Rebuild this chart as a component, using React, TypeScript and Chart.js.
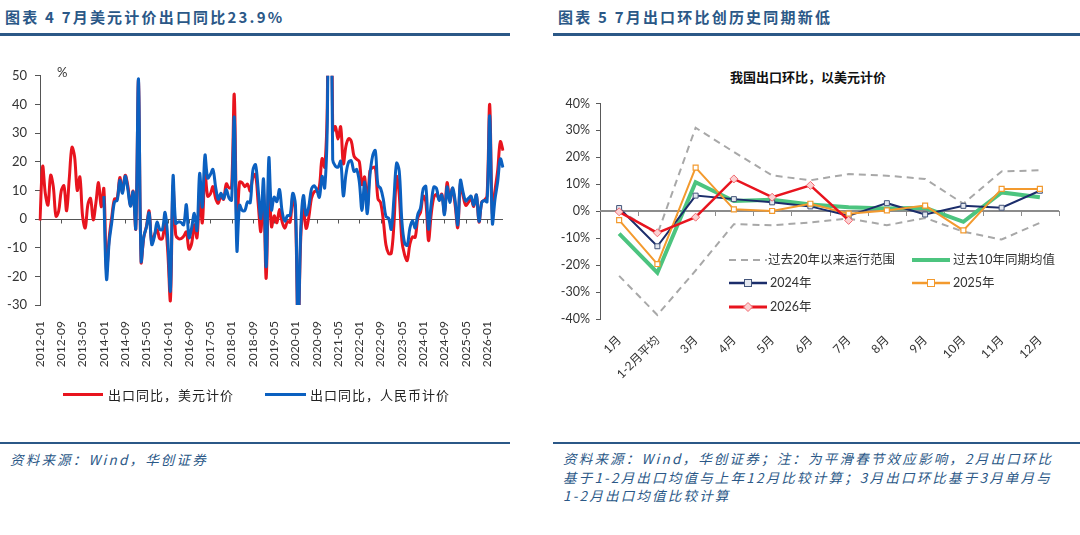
import React, { useEffect, useRef } from 'react';
import { Chart, registerables } from 'chart.js';

Chart.register(...registerables);

// ---------------- Left chart data: export YoY (%) ----------------
const usd2012 = [-0.5, 18.4, 8.9, 4.9, 15.3, 11.3, 1.0, 2.7, 9.9, 11.6, 2.9, 14.1];
const usd2013 = [25.0, 21.8, 10.0, 14.7, 1.0, -3.1, 5.1, 7.2, -0.3, 5.6, 12.7, 4.3];
const usd2014 = [10.6, -18.1, -6.6, 0.9, 7.0, 7.2, 14.5, 9.4, 15.3, 11.6, 4.7, 9.7];
const usd2015 = [-3.3, 48.3, -15.0, -6.4, -2.5, 2.8, -8.3, -5.5, -3.7, -6.9, -6.8, -1.4];
const usd2016 = [-11.2, -28.5, 11.5, -5.5, -6.8, -6.8, -6.0, -4.5, -10.5, -8.5, -2.0, -6.5];
const usd2017 = [7.9, -1.3, 16.4, 8.0, 8.7, 11.3, 7.2, 5.5, 8.1, 6.9, 12.3, 10.9];
const usd2018 = [11.1, 43.5, -2.7, 12.9, 12.6, 11.3, 12.2, 9.8, 14.5, 15.6, 5.4, -4.4];
const usd2019 = [9.1, -20.7, 14.2, -2.7, 1.1, -1.3, 3.3, -1.0, -3.2, -0.9, -1.1, 7.9];
const usd2020 = [2.0, -40.6, -6.6, 3.5, -3.3, 0.5, 7.2, 9.5, 9.9, 11.4, 21.1, 18.1];
const usd2021 = [42.0, 154.9, 30.6, 32.3, 27.9, 32.2, 19.3, 25.6, 28.1, 27.1, 22.0, 20.9];
const usd2022 = [20.0, 12.0, 14.7, 3.9, 16.9, 17.9, 18.0, 7.1, 5.7, -0.3, -9.0, -12.0];
const usd2023 = [-12.0, -2.0, 14.8, 8.5, -7.5, -12.4, -14.5, -8.8, -6.2, -6.4, 0.5, 2.3];
const usd2024 = [8.0, 6.0, -7.5, 1.5, 7.6, 8.6, 7.0, 8.7, 2.4, 12.7, 6.7, 10.7];
const usd2025 = [5.0, -3.0, 12.4, 8.1, 4.8, 5.8, 7.2, 4.4, 8.3, -1.1, 5.9, 6.6];
const usd2026 = [8.0, 40.0, 2.0, 10.0, 17.0, 27.0, 23.9];

const rmb2014 = [8.0, -21.0, -8.0, -1.0, 6.0, 6.5, 13.5, 9.0, 15.0, 10.5, 4.5, 9.5];
const rmb2015 = [-3.2, 48.9, -14.6, -6.2, -2.8, 2.1, -8.9, -6.1, -1.1, -3.6, -3.7, 2.3];
const rmb2016 = [-6.6, -25.0, 15.0, -1.5, -1.0, -1.2, -2.0, 5.0, -6.5, -3.0, 2.0, -4.0];
const rmb2017 = [15.9, 4.2, 22.3, 14.3, 15.5, 17.3, 11.2, 6.9, 9.0, 7.1, 10.3, 7.4];
const rmb2018 = [6.6, 35.5, -11.0, 4.8, 3.0, 3.0, 6.0, 5.7, 17.0, 19.0, 10.2, 0.2];
const rmb2019 = [13.9, -16.6, 21.3, 3.2, 7.7, 6.1, 10.3, 2.6, -0.7, 1.2, 1.3, 9.0];
const rmb2020 = [5.0, -40.0, -3.5, 8.2, 1.4, 4.3, 10.4, 11.6, 10.2, 7.6, 14.9, 10.9];
const rmb2021 = [35.0, 140.0, 20.7, 18.5, 18.1, 20.2, 8.1, 15.7, 19.9, 20.3, 16.6, 17.3];
const rmb2022 = [13.0, 3.0, 12.9, 1.9, 15.3, 22.0, 23.9, 11.8, 10.7, 7.0, 0.9, 0.3];
const rmb2023 = [-3.6, 7.0, 19.5, 16.8, -0.8, -8.3, -9.2, -3.2, -0.6, -3.1, 1.7, 3.8];
const rmb2024 = [10.5, 11.4, -3.5, 5.1, 11.2, 10.7, 6.5, 8.4, 1.5, 11.2, 5.8, 10.9];
const rmb2025 = [6.5, -2.0, 13.5, 9.3, 6.3, 7.2, 8.0, 4.8, 8.4, -0.8, 5.7, 6.5];
const rmb2026 = [6.0, 36.0, -1.5, 7.0, 13.0, 21.0, 18.0];

const usdYoY: (number | null)[] = [
  ...usd2012, ...usd2013, ...usd2014, ...usd2015, ...usd2016, ...usd2017, ...usd2018,
  ...usd2019, ...usd2020, ...usd2021, ...usd2022, ...usd2023, ...usd2024, ...usd2025, ...usd2026,
];
const rmbMissing2012_2013: (number | null)[] = new Array(24).fill(null);
const rmbYoY: (number | null)[] = [
  ...rmbMissing2012_2013, ...rmb2014, ...rmb2015, ...rmb2016, ...rmb2017, ...rmb2018,
  ...rmb2019, ...rmb2020, ...rmb2021, ...rmb2022, ...rmb2023, ...rmb2024, ...rmb2025, ...rmb2026,
];

const years = [2012, 2013, 2014, 2015, 2016, 2017, 2018, 2019, 2020, 2021, 2022, 2023, 2024, 2025, 2026];
const monthNums = ['01', '02', '03', '04', '05', '06', '07', '08', '09', '10', '11', '12'];
const monthLabels: string[] = years
  .flatMap((y) => monthNums.map((m) => `${y}-${m}`))
  .slice(0, usdYoY.length);

const leftTickLabels = [
  '2012-01', '2012-09', '2013-05', '2014-01', '2014-09', '2015-05', '2016-01', '2016-09',
  '2017-05', '2018-01', '2018-09', '2019-05', '2020-01', '2020-09', '2021-05', '2022-01',
  '2022-09', '2023-05', '2024-01', '2024-09', '2025-05', '2026-01',
];

// ---------------- Right chart data: export MoM (%) ----------------
const momCategories = ['1月', '1-2月平均', '3月', '4月', '5月', '6月', '7月', '8月', '9月', '10月', '11月', '12月'];
const range20yUpper = [0.5, -8.5, 31.0, 22.0, 13.3, 11.5, 13.8, 13.2, 12.0, 2.8, 14.8, 15.2];
const range20yLower = [-24.0, -38.5, -22.0, -4.8, -5.2, -4.2, -2.7, -5.2, -2.5, -7.6, -10.5, -4.3];
const avg10y = [-8.3, -22.8, 10.8, 3.8, 4.3, 2.5, 1.5, 1.0, 1.3, -3.9, 7.0, 5.2];
const mom2024 = [1.2, -13.0, 5.8, 4.5, 3.3, 1.8, -1.7, 3.0, -1.2, 2.0, 1.3, 7.6];
const mom2025 = [-3.3, -19.6, 16.2, 0.7, 0.1, 2.8, -0.9, 0.3, 2.1, -7.1, 8.3, 8.3];
const mom2026 = [-0.2, -8.0, -2.2, 12.0, 5.2, 9.6, -3.4];

// ---------------- Styles ----------------
const HEAD = '#2b5887';
const RED = '#e8141e';
const BLUE = '#0b60c0';
const NAVY = '#1b2d6b';
const ORANGE = '#f39a2e';
const GREEN = '#4cc47f';
const GRAY = '#a8a8a8';
const NUM_FONT = 'Lato, "Noto Sans CJK SC", sans-serif';
const CJK_FONT = '"Noto Sans CJK SC", sans-serif';

const leftAxisPlugin = {
  id: 'leftZeroAxis',
  beforeDatasetsDraw(chart: any) {
    const { ctx, chartArea, scales } = chart;
    const y0 = Math.round(scales.y.getPixelForValue(0)) + 0.5;
    ctx.save();
    ctx.strokeStyle = '#555';
    ctx.lineWidth = 1;
    ctx.beginPath();
    ctx.moveTo(chartArea.left, y0);
    ctx.lineTo(chartArea.right, y0);
    monthLabels.forEach((m, i) => {
      if (i > 0 && leftTickLabels.includes(m)) {
        const x = Math.round(scales.x.getPixelForValue(i)) + 0.5;
        ctx.moveTo(x, y0);
        ctx.lineTo(x, y0 + 4);
      }
    });
    ctx.stroke();
    ctx.restore();
  },
};

const rightAxisPlugin = {
  id: 'rightZeroAxis',
  beforeDatasetsDraw(chart: any) {
    const { ctx, chartArea, scales } = chart;
    const y0 = Math.round(scales.y.getPixelForValue(0));
    ctx.save();
    ctx.strokeStyle = '#8c8c8c';
    ctx.lineWidth = 2;
    ctx.beginPath();
    ctx.moveTo(chartArea.left, y0);
    ctx.lineTo(chartArea.right, y0);
    ctx.stroke();
    ctx.lineWidth = 1;
    ctx.beginPath();
    const n = momCategories.length;
    for (let k = 1; k <= n; k++) {
      const x = k < n
        ? (scales.x.getPixelForValue(k - 1) + scales.x.getPixelForValue(k)) / 2
        : chartArea.right;
      const xx = Math.round(x) + 0.5;
      ctx.moveTo(xx, y0);
      ctx.lineTo(xx, y0 + 5);
    }
    ctx.stroke();
    ctx.restore();
  },
};

function LeftChart() {
  const ref = useRef<HTMLCanvasElement>(null);
  useEffect(() => {
    const chart = new Chart(ref.current as HTMLCanvasElement, {
      type: 'line',
      data: {
        labels: monthLabels,
        datasets: [
          { label: '出口同比，美元计价', data: usdYoY, borderColor: RED, backgroundColor: RED, borderWidth: 3, pointRadius: 0, tension: 0.35, order: 1 },
          { label: '出口同比，人民币计价', data: rmbYoY, borderColor: BLUE, backgroundColor: BLUE, borderWidth: 3, pointRadius: 0, tension: 0.35, order: 0 },
        ],
      },
      options: {
        responsive: false,
        animation: false,
        events: [],
        layout: { padding: { top: 14, right: 17, left: 0, bottom: 0 } },
        plugins: { legend: { display: false }, tooltip: { enabled: false } },
        scales: {
          x: {
            type: 'category',
            offset: false,
            grid: { display: false },
            border: { display: false },
            ticks: {
              autoSkip: false,
              maxRotation: 90,
              minRotation: 90,
              padding: 8,
              color: '#333',
              font: { family: NUM_FONT, size: 12 },
              callback: (_v: any, i: number) => (leftTickLabels.includes(monthLabels[i]) ? monthLabels[i] : null),
            },
            afterFit: (s: any) => { s.height = 85; s.paddingLeft = 0; s.paddingRight = 0; },
          },
          y: {
            min: -30,
            max: 50,
            ticks: { stepSize: 10, color: '#333', font: { family: NUM_FONT, size: 13 }, padding: 8 },
            grid: { drawOnChartArea: false, drawTicks: true, tickLength: 5, color: '#555' },
            border: { display: true, color: '#555', width: 1 },
            afterFit: (s: any) => { s.width = 40; },
          },
        },
      } as any,
      plugins: [leftAxisPlugin],
    });
    return () => chart.destroy();
  }, []);
  return <canvas ref={ref} width={520} height={330} style={{ position: 'absolute', left: 0, top: 60, width: 520, height: 330 }} />;
}

function RightChart() {
  const ref = useRef<HTMLCanvasElement>(null);
  useEffect(() => {
    const chart = new Chart(ref.current as HTMLCanvasElement, {
      type: 'line',
      data: {
        labels: momCategories,
        datasets: [
          { label: '过去20年以来运行范围', data: range20yUpper, borderColor: GRAY, borderWidth: 2, borderDash: [7, 5], pointRadius: 0, tension: 0, order: 5 },
          { label: '过去20年以来运行范围(下)', data: range20yLower, borderColor: GRAY, borderWidth: 2, borderDash: [7, 5], pointRadius: 0, tension: 0, order: 5 },
          { label: '过去10年同期均值', data: avg10y, borderColor: GREEN, borderWidth: 4, pointRadius: 0, tension: 0, order: 3 },
          { label: '2024年', data: mom2024, borderColor: NAVY, borderWidth: 2, pointStyle: 'rect', pointRadius: 3.5, pointBorderWidth: 1, pointBorderColor: '#44557a', pointBackgroundColor: '#e4e8f0', tension: 0, order: 2 },
          { label: '2025年', data: mom2025, borderColor: ORANGE, borderWidth: 2, pointStyle: 'rect', pointRadius: 3.5, pointBorderWidth: 1.2, pointBorderColor: ORANGE, pointBackgroundColor: '#ffffff', tension: 0, order: 1 },
          { label: '2026年', data: mom2026, borderColor: RED, borderWidth: 2.5, pointStyle: 'rectRot', pointRadius: 4, pointBorderWidth: 1, pointBorderColor: '#f06a70', pointBackgroundColor: '#fbd0d2', tension: 0, order: 0 },
        ],
      },
      options: {
        responsive: false,
        animation: false,
        events: [],
        layout: { padding: { top: 13, right: 14, left: 0, bottom: 0 } },
        plugins: { legend: { display: false }, tooltip: { enabled: false } },
        scales: {
          x: {
            type: 'category',
            offset: true,
            grid: { display: false },
            border: { display: false },
            ticks: { autoSkip: false, maxRotation: 45, minRotation: 45, padding: 6, color: '#333', font: { family: NUM_FONT, size: 12 } },
            afterFit: (s: any) => { s.height = 71; s.paddingLeft = 0; s.paddingRight = 0; },
          },
          y: {
            min: -40,
            max: 40,
            ticks: { stepSize: 10, color: '#333', font: { family: NUM_FONT, size: 12.5 }, padding: 6, callback: (v: any) => `${v}%` },
            grid: { drawOnChartArea: false, drawTicks: true, tickLength: 4, color: '#595959' },
            border: { display: true, color: '#595959', width: 1 },
            afterFit: (s: any) => { s.width = 47; },
          },
        },
      } as any,
      plugins: [rightAxisPlugin],
    });
    return () => chart.destroy();
  }, []);
  return <canvas ref={ref} width={520} height={300} style={{ position: 'absolute', left: 553, top: 90, width: 520, height: 300 }} />;
}

const abs = (left: number, top: number, extra: React.CSSProperties = {}): React.CSSProperties => ({
  position: 'absolute', left, top, whiteSpace: 'nowrap', ...extra,
});

function LineSample({ left, top, color, width, dash, marker }: { left: number; top: number; color: string; width: number; dash?: string; marker?: 'square' | 'diamond'; }) {
  const w = 38;
  return (
    <svg style={abs(left, top - 6)} width={w} height={12}>
      <line x1={0} y1={6} x2={w} y2={6} stroke={color} strokeWidth={width} strokeDasharray={dash} />
      {marker === 'square' && (
        <rect x={w / 2 - 3.5} y={2.5} width={7} height={7} fill={color === ORANGE ? '#fff' : '#e4e8f0'} stroke={color === ORANGE ? ORANGE : '#44557a'} strokeWidth={1} />
      )}
      {marker === 'diamond' && (
        <polygon points={`${w / 2},1.5 ${w / 2 + 4.5},6 ${w / 2},10.5 ${w / 2 - 4.5},6`} fill="#fbd0d2" stroke="#f06a70" strokeWidth={1} />
      )}
    </svg>
  );
}

export default function App() {
  const headText: React.CSSProperties = { fontFamily: CJK_FONT, fontSize: 15, fontWeight: 600, color: HEAD, letterSpacing: '2.2px', lineHeight: '22px' };
  const footText: React.CSSProperties = { fontFamily: CJK_FONT, fontSize: 13.5, fontStyle: 'italic', color: HEAD, letterSpacing: '2.2px', lineHeight: '18.5px' };
  const legText: React.CSSProperties = { fontFamily: CJK_FONT, fontSize: 13, color: '#222', letterSpacing: '1px', lineHeight: '18px' };
  const rLegText: React.CSSProperties = { fontFamily: NUM_FONT, fontSize: 12.5, color: '#333', lineHeight: '16px' };
  return (
    <div style={{ position: 'absolute', left: 0, top: 0, width: 1080, height: 535, background: '#fff', overflow: 'hidden' }}>
      {/* Left panel */}
      <div style={abs(5, 6, headText)}>图表 4 7月美元计价出口同比23.9%</div>
      <div style={abs(0, 33, { width: 510, height: 2.5, background: HEAD })} />
      <LeftChart />
      <div style={abs(57, 64, { fontFamily: NUM_FONT, fontSize: 13, color: '#333' })}>%</div>
      <div style={abs(63, 393, { width: 40, height: 3, background: RED })} />
      <div style={abs(108, 386, legText)}>出口同比，美元计价</div>
      <div style={abs(265, 393, { width: 41, height: 3, background: BLUE })} />
      <div style={abs(310, 386, legText)}>出口同比，人民币计价</div>
      <div style={abs(0, 442, { width: 510, height: 2, background: HEAD })} />
      <div style={abs(10, 450, footText)}>资料来源：Wind，华创证券</div>

      {/* Right panel */}
      <div style={abs(558, 6, headText)}>图表 5 7月出口环比创历史同期新低</div>
      <div style={abs(553, 33, { width: 527, height: 2.5, background: HEAD })} />
      <div style={abs(658, 67, { width: 300, textAlign: 'center', fontFamily: CJK_FONT, fontSize: 13, fontWeight: 700, color: '#111' })}>我国出口环比，以美元计价</div>
      <RightChart />
      <LineSample left={729} top={260} color={GRAY} width={2} dash="7 5" />
      <div style={abs(768, 252, rLegText)}>过去20年以来运行范围</div>
      <LineSample left={912} top={260} color={GREEN} width={4} />
      <div style={abs(953, 252, rLegText)}>过去10年同期均值</div>
      <LineSample left={729} top={283} color={NAVY} width={2.5} marker="square" />
      <div style={abs(770, 275, rLegText)}>2024年</div>
      <LineSample left={912} top={283} color={ORANGE} width={2.5} marker="square" />
      <div style={abs(953, 275, rLegText)}>2025年</div>
      <LineSample left={729} top={307} color={RED} width={3} marker="diamond" />
      <div style={abs(770, 299, rLegText)}>2026年</div>
      <div style={abs(553, 442, { width: 527, height: 2, background: HEAD })} />
      <div style={abs(563, 449, footText)}>
        资料来源：Wind，华创证券；注：为平滑春节效应影响，2月出口环比<br />
        基于1-2月出口均值与上年12月比较计算；3月出口环比基于3月单月与<br />
        1-2月出口均值比较计算
      </div>
    </div>
  );
}
